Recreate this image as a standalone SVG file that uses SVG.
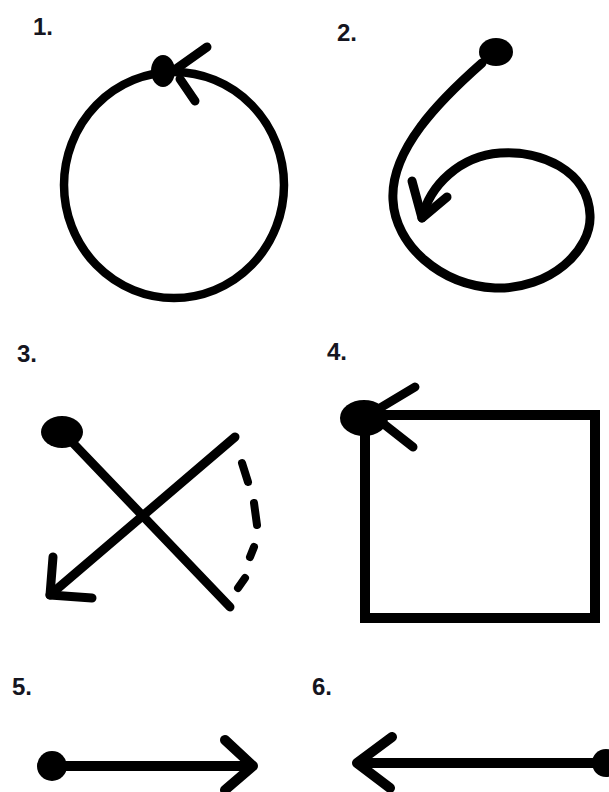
<svg xmlns="http://www.w3.org/2000/svg" width="609" height="792" viewBox="0 0 609 792">
<style>
.lbl{font-family:"Liberation Sans",Arial,sans-serif;font-weight:bold;font-size:24px;fill:#151520}
.s{fill:none;stroke:#000;stroke-width:9;stroke-linecap:round;stroke-linejoin:round}
.d{fill:#000}
</style>
<rect width="609" height="792" fill="#fff"/>
<g id="fig1">
<text class="lbl" x="33" y="35">1.</text>
<ellipse class="s" cx="174" cy="185" rx="110" ry="113" style="stroke-width:8.5"/>
<ellipse class="d" cx="163" cy="71" rx="12" ry="16"/>
<g id="fig1-connector">
<path class="s" d="M207 47 L176 69 M180 79 L195 101"/>
</g>
</g>
<g id="fig2">
<text class="lbl" x="337" y="41">2.</text>
<ellipse class="d" cx="496" cy="52" rx="17" ry="14"/>
<g id="fig2-connector">
<path class="s" d="M482 63 C440 100 390 150 393 200 C395 245 440 285 495 288 C550 290 592 250 590 215 C588 170 540 150 500 153 C460 156 430 185 422 218"/>
<path class="s" d="M412 181 L422 218 L447 197"/>
</g>
</g>
<g id="fig3">
<text class="lbl" x="17" y="362">3.</text>
<ellipse class="d" cx="62" cy="432" rx="21" ry="16"/>
<g id="fig3-connectors">
<path class="s" d="M72 442 L230 607"/>
<path class="s" d="M235 437 L50 595"/>
<path class="s" d="M53 557 L50 595 L92 598"/>
<path class="s" style="stroke-width:8" d="M242 463 L248 482 M254 503 L257 525 M254 547 L250 557 M245 578 L238 588"/>
</g>
</g>
<g id="fig4">
<text class="lbl" x="327" y="360">4.</text>
<rect x="365" y="415" width="230" height="203" fill="none" stroke="#000" stroke-width="10"/>
<ellipse class="d" cx="364" cy="418" rx="24" ry="18"/>
<g id="fig4-connector">
<path class="s" d="M415 387 L380 408 M385 425 L413 447"/>
</g>
</g>
<g id="fig5">
<text class="lbl" x="12" y="695">5.</text>
<circle class="d" cx="52" cy="766" r="15"/>
<g id="fig5-connector">
<path class="s" style="stroke-width:10" d="M52 766 L253 766 M225 740 L253 766 L225 790"/>
</g>
</g>
<g id="fig6">
<text class="lbl" x="312" y="695">6.</text>
<circle class="d" cx="606" cy="763" r="14"/>
<g id="fig6-connector">
<path class="s" style="stroke-width:10" d="M606 763 L357 763 M392 737 L357 763 L390 788"/>
</g>
</g>
</svg>
